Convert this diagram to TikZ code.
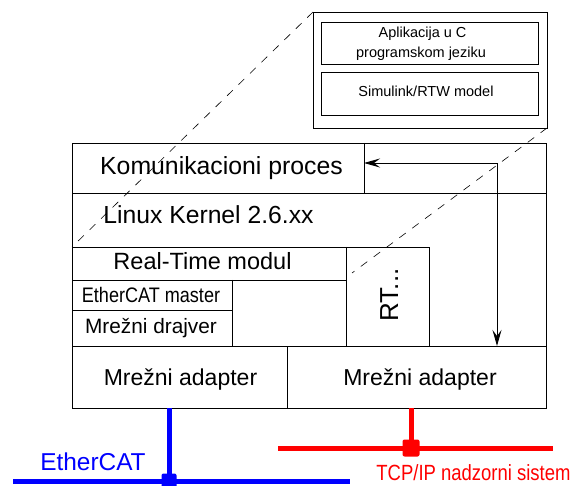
\documentclass[tikz,border=0pt]{standalone}
\usepackage{fontspec}
\setmainfont{Liberation Sans}
\usepackage{graphicx}
\usetikzlibrary{arrows.meta}
\newcommand{\fsz}[1]{\fontsize{#1}{#1}\selectfont}
\begin{document}
\begin{tikzpicture}[x=1pt,y=-1pt,line width=0.9pt,
  lbl/.style={inner sep=0pt,anchor=base},
  dashln/.style={line width=0.6pt,dash pattern=on 8pt off 8pt},
  tip/.style={{Stealth[length=16pt,width=9pt,inset=6pt]}-{Stealth[length=16pt,width=9pt,inset=6pt]}},
  bluebus/.style={draw=blue,line width=5pt},
  redbus/.style={draw=red,line width=5pt},
  joint/.style={inner sep=0pt,rounded corners=2pt,minimum size=#1}]
\useasboundingbox (0,0) rectangle (573,486);
% popup
\draw (313,12) rectangle (547,128);
\draw (321,22) rectangle (538,64);
\draw (321,72) rectangle (538,115);
\node[lbl] (apl) at (422.5,38) {\fsz{14.5}Aplikacija u C};
\node[lbl] (prg) at (421,58) {\fsz{14.5}programskom jeziku};
\node[lbl] (sim) at (426,97) {\fsz{14.5}Simulink/RTW model};
% main frame
\draw (72,143) rectangle (546,408);
\draw (72,193) -- (546,193);
\draw (364,143) -- (364,193);
\draw (72,247) rectangle (429,346);
\draw (346,247) -- (346,346);
\draw (72,280) -- (346,280);
\draw (232,280) -- (232,346);
\draw (72,310) -- (232,310);
\draw (429,346) -- (546,346);
\draw (287,346) -- (287,408);
\node[lbl] (kom) at (221.5,175) {\fsz{24.8}Komunikacioni proces};
\node[lbl,anchor=base west] (lin) at (103,224) {\fsz{24.7}Linux Kernel 2.6.xx};
\node[lbl] (rtm) at (202.5,270) {\fsz{23.5}Real-Time modul};
\node[lbl] (ecm) at (151,303) {\fsz{21}\scalebox{0.86}[1]{EtherCAT master}};
\node[lbl] (drv) at (151,334) {\fsz{20.8}Mrežni drajver};
\node[lbl] (ad1) at (180.5,385) {\fsz{23}Mrežni adapter};
\node[lbl] (ad2) at (420,385) {\fsz{23}Mrežni adapter};
\node[lbl,anchor=base west,rotate=90] (rt) at (398,322) {\fsz{26}RT...};
% arrow
\coordinate (komE) at (364,163);
\coordinate (adN) at (497,346);
\draw[tip] (komE) -| (adN);
% zoom lines
\coordinate (popTL) at (313,12);
\coordinate (popBR) at (547,128);
\coordinate (rtTL) at (72,247);
\coordinate (rtIn) at (352,273);
\draw[dashln] (popTL) -- (rtTL);
\draw[dashln] (popBR) -- (rtIn);
% buses
\coordinate (bTop) at (169,408);
\coordinate (bL) at (13,481);
\coordinate (bR) at (350,481);
\node[joint=15pt,fill=blue] (bJ) at (169,481) {};
\draw[bluebus] (bTop) -- (bJ.center);
\draw[bluebus] (bL) -- (bR);
\coordinate (rTop) at (411,408);
\coordinate (rL) at (278,448);
\coordinate (rR) at (553,448);
\node[joint=17pt,fill=red] (rJ) at (411,448) {};
\draw[redbus] (rTop) -- (rJ.center);
\draw[redbus] (rL) -- (rR);
\node[lbl,text=blue] (eth) at (93,470) {\fsz{24.4}EtherCAT};
\node[lbl,text=red] (tcp) at (473.5,480) {\fsz{22}\scalebox{0.84}[1]{TCP/IP nadzorni sistem}};
\end{tikzpicture}
\end{document}
